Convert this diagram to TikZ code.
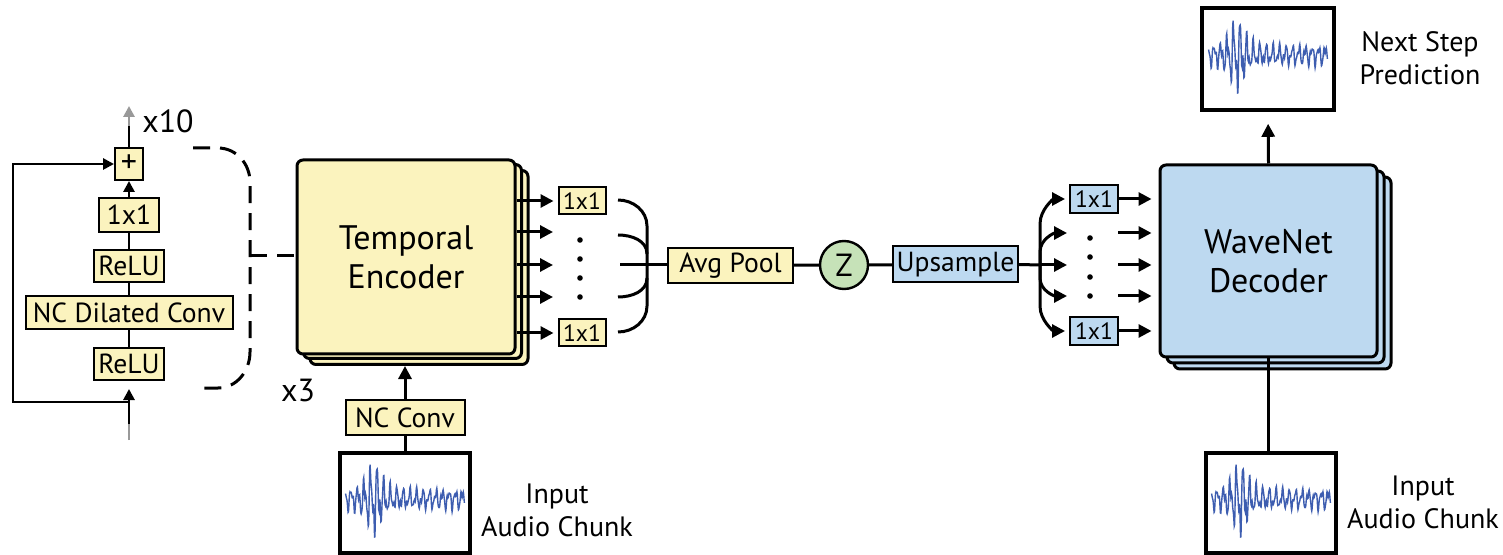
\documentclass[tikz,border=0pt]{standalone}
\usepackage{fontspec}
\setmainfont{PT Sans}
\usetikzlibrary{arrows.meta}
\definecolor{yel}{HTML}{FBF3BE}
\definecolor{blu}{HTML}{BDD9F0}
\definecolor{grn}{HTML}{C6E2B8}
\definecolor{wav}{HTML}{3D5DB0}
\tikzset{
 box/.style={draw=black, line width=1pt, inner sep=0pt, font=\fontsize{13.8}{15}\selectfont},
 ybox/.style={box, fill=yel},
 bbox/.style={box, fill=blu},
 big/.style={draw=black, line width=1.5pt, rounded corners=3pt, inner sep=0pt, align=center, font=\fontsize{17}{19.5}\selectfont, minimum width=109pt, minimum height=97pt},
 audio/.style={draw=black, line width=1.8pt, inner sep=0pt, minimum width=65pt, minimum height=50pt},
 arr/.style={line width=1.5pt, -{Triangle[length=6.5pt,width=6.5pt]}},
 sarr/.style={line width=1.4pt, -{Triangle[length=5.5pt,width=5.5pt]}},
 ln/.style={line width=1.5pt},
 sln/.style={line width=1.4pt},
 dashln/.style={line width=1.5pt, dash pattern=on 8.5pt off 5pt},
 lbl/.style={align=center, font=\fontsize{14}{16.5}\selectfont},
 small/.style={font=\fontsize{11.8}{13}\selectfont},
 wave/.style={draw=wav, line width=0.7pt}
}
\newcommand\wavein[1]{\begin{scope}[shift={(#1.center)}]
 \draw[wave] plot[domain=0.02:0.98,samples=320,variable=\u]
 ({(\u-0.5)*124},{-(13+36/((1+(\u-0.25)*(\u-0.25)/0.01)*(1+(\u-0.25)*(\u-0.25)/0.01)))*(0.55*sin(360*mod(19*\u,1))+0.3*sin(360*mod(37*\u,1)+70)+0.15*sin(360*mod(61*\u,1)+40)) - 4});
\end{scope}}
\begin{document}
\begin{tikzpicture}[x=0.5pt,y=-0.5pt]
\path[fill=white,use as bounding box] (0,0) rectangle (1503,555);

% ---------- left residual block ----------
\node[ybox, minimum width=14pt, minimum height=16pt, font=\fontsize{16}{16}\selectfont] (plus) at (129,164) {+};
\node[ybox, minimum width=30pt, minimum height=17pt] (c11) at (129,215) {1x1};
\node[ybox, minimum width=35pt, minimum height=16pt] (relu1) at (129,266) {ReLU};
\node[ybox, minimum width=103.5pt, minimum height=16.5pt] (ncd) at (129,313) {NC Dilated Conv};
\node[ybox, minimum width=35pt, minimum height=16pt] (relu2) at (129,364) {ReLU};
\draw[sln] (relu2) -- (ncd);
\draw[sln] (ncd) -- (relu1);
\draw[sln] (relu1) -- (c11);
\draw[sarr] (c11) -- (plus);
\coordinate (topout) at (129,106);
\coordinate (topmid) at (129,126);
\draw[sln] (plus.north) -- (topmid);
\draw[sarr, black!40] (topmid) -- (topout);
\coordinate (lin) at (129,440);
\coordinate (linmid) at (129,424);
\coordinate (skipj) at (129,402);
\coordinate (skipc1) at (13,402);
\coordinate (skipc2) at (13,164);
\draw[sln, black!40] (lin) -- (linmid);
\draw[sarr, shorten >=4pt] (linmid) -- (relu2.south);
\draw[sarr] (skipj) -- (skipc1) -- (skipc2) -- (plus.west);
\node[font=\fontsize{16}{18}\selectfont] (x10) at (168,121) {x10};

% ---------- temporal encoder ----------
\node[big, fill=yel] (encB2) at (419,267.5) {};
\node[big, fill=yel] (encB1) at (412.5,261.5) {};
\node[big, fill=yel] (enc) at (406,257) {Temporal\\Encoder};
\node[font=\fontsize{16}{18}\selectfont] (x3) at (298,390) {x3};

% dashed bracket
\coordinate (db1) at (193,148);
\coordinate (db2) at (203,388);
\coordinate (dbm) at (250,256);
\draw[dashln] (db1) -- (218,148) to[out=0,in=90] (250,182) -- (250,352) to[out=-90,in=0] (218,388) -- (db2);
\draw[dashln] (dbm) -- (enc.west |- dbm);

% input left
\node[ybox, minimum width=59.5pt, minimum height=17.5pt] (nc) at (405,417.5) {NC Conv};
\node[audio] (inL) at (405,503) {};
\wavein{inL}
\draw[ln] (nc.south) -- (inL.north);
\draw[arr] (nc.north) -- (nc.north |- encB2.south);
\node[lbl] (inLl) at (557,510) {Input\\Audio Chunk};

% encoder outputs
\node[ybox, small, minimum width=23.5pt, minimum height=13.5pt] (e1) at (582,201) {1x1};
\node[ybox, small, minimum width=23.5pt, minimum height=13.5pt] (e2) at (582,333) {1x1};
\coordinate (m1) at (553,232);
\coordinate (m2) at (553,265);
\coordinate (m3) at (553,297);
\draw[arr, shorten >=2pt] (enc.east |- e1) -- (e1.west);
\draw[arr] (enc.east |- m1) -- (m1);
\draw[arr] (enc.east |- m2) -- (m2);
\draw[arr] (enc.east |- m3) -- (m3);
\draw[arr, shorten >=2pt] (enc.east |- e2) -- (e2.west);
\foreach \yy in {240,259,278,297} \fill (580,\yy) circle (1.4pt);

% brace
\draw[ln] (618,200) to[out=0,in=90] (647,226) -- (647,306) to[out=-90,in=0] (618,332);
\draw[ln] (618,235) to[out=0,in=90] (647,254);
\draw[ln] (618,297) to[out=0,in=-90] (647,278);
\coordinate (brm) at (620,265);

% middle row
\node[ybox, minimum width=62.5pt, minimum height=17.5pt] (avg) at (730.5,265.5) {Avg Pool};
\node[draw=black, line width=1.2pt, fill=grn, circle, minimum size=24pt, inner sep=0pt, font=\fontsize{16}{18}\selectfont] (z) at (844,265) {Z};
\node[bbox, minimum width=62.5pt, minimum height=18pt] (up) at (955.5,264.5) {Upsample};
\draw[ln] (brm) -- (avg.west |- brm);
\draw[ln] (avg) -- (z);
\draw[ln] (z) -- (up);
\coordinate (fanc) at (1040,265);
\draw[ln] (up.east) -- (fanc);

% fan to decoder
\node[bbox, small, minimum width=24pt, minimum height=14pt] (d1) at (1094,199) {1x1};
\node[bbox, small, minimum width=24pt, minimum height=14pt] (d2) at (1094,331) {1x1};
\coordinate (f2) at (1067,233);
\coordinate (f3) at (1067,265);
\coordinate (f4) at (1067,296);
\draw[arr, shorten >=2pt] (fanc) -- (1040,224) to[out=90,in=180] (d1.west);
\draw[arr] (fanc) -- (1040,252) to[out=90,in=180] (f2);
\draw[arr] (fanc) -- (f3);
\draw[arr] (fanc) -- (1040,278) to[out=-90,in=180] (f4);
\draw[arr, shorten >=2pt] (fanc) -- (1040,306) to[out=-90,in=180] (d2.west);
\foreach \yy in {238,257,277,296} \fill (1090,\yy) circle (1.4pt);

% decoder
\node[big, fill=blu, minimum width=108.5pt, minimum height=96pt] (decB2) at (1282.5,273) {};
\node[big, fill=blu, minimum width=108.5pt, minimum height=96pt] (decB1) at (1275.5,267) {};
\node[big, fill=blu, minimum width=108.5pt, minimum height=96pt] (dec) at (1268.5,261) {WaveNet\\Decoder};
\coordinate (g1) at (1118,233);
\coordinate (g2) at (1118,265);
\coordinate (g3) at (1118,296);
\draw[arr, shorten >=3.5pt] (d1.east) -- (dec.west |- d1.east);
\draw[arr, shorten >=3.5pt] (g1) -- (dec.west |- g1);
\draw[arr, shorten >=3.5pt] (g2) -- (dec.west |- g2);
\draw[arr, shorten >=3.5pt] (g3) -- (dec.west |- g3);
\draw[arr, shorten >=3.5pt] (d2.east) -- (dec.west |- d2.east);

% next step prediction
\node[audio, minimum width=66pt, minimum height=51pt] (ns) at (1268,59) {};
\wavein{ns}
\draw[arr, shorten >=6pt] (dec.north) -- (ns.south);
\node[lbl] (nsl) at (1420,58) {Next Step\\Prediction};

% input right
\node[audio] (inR) at (1271,503) {};
\wavein{inR}
\draw[ln] (dec.south) -- (dec.south |- inR.north);
\node[lbl] (inRl) at (1423,502) {Input\\Audio Chunk};
\end{tikzpicture}
\end{document}
